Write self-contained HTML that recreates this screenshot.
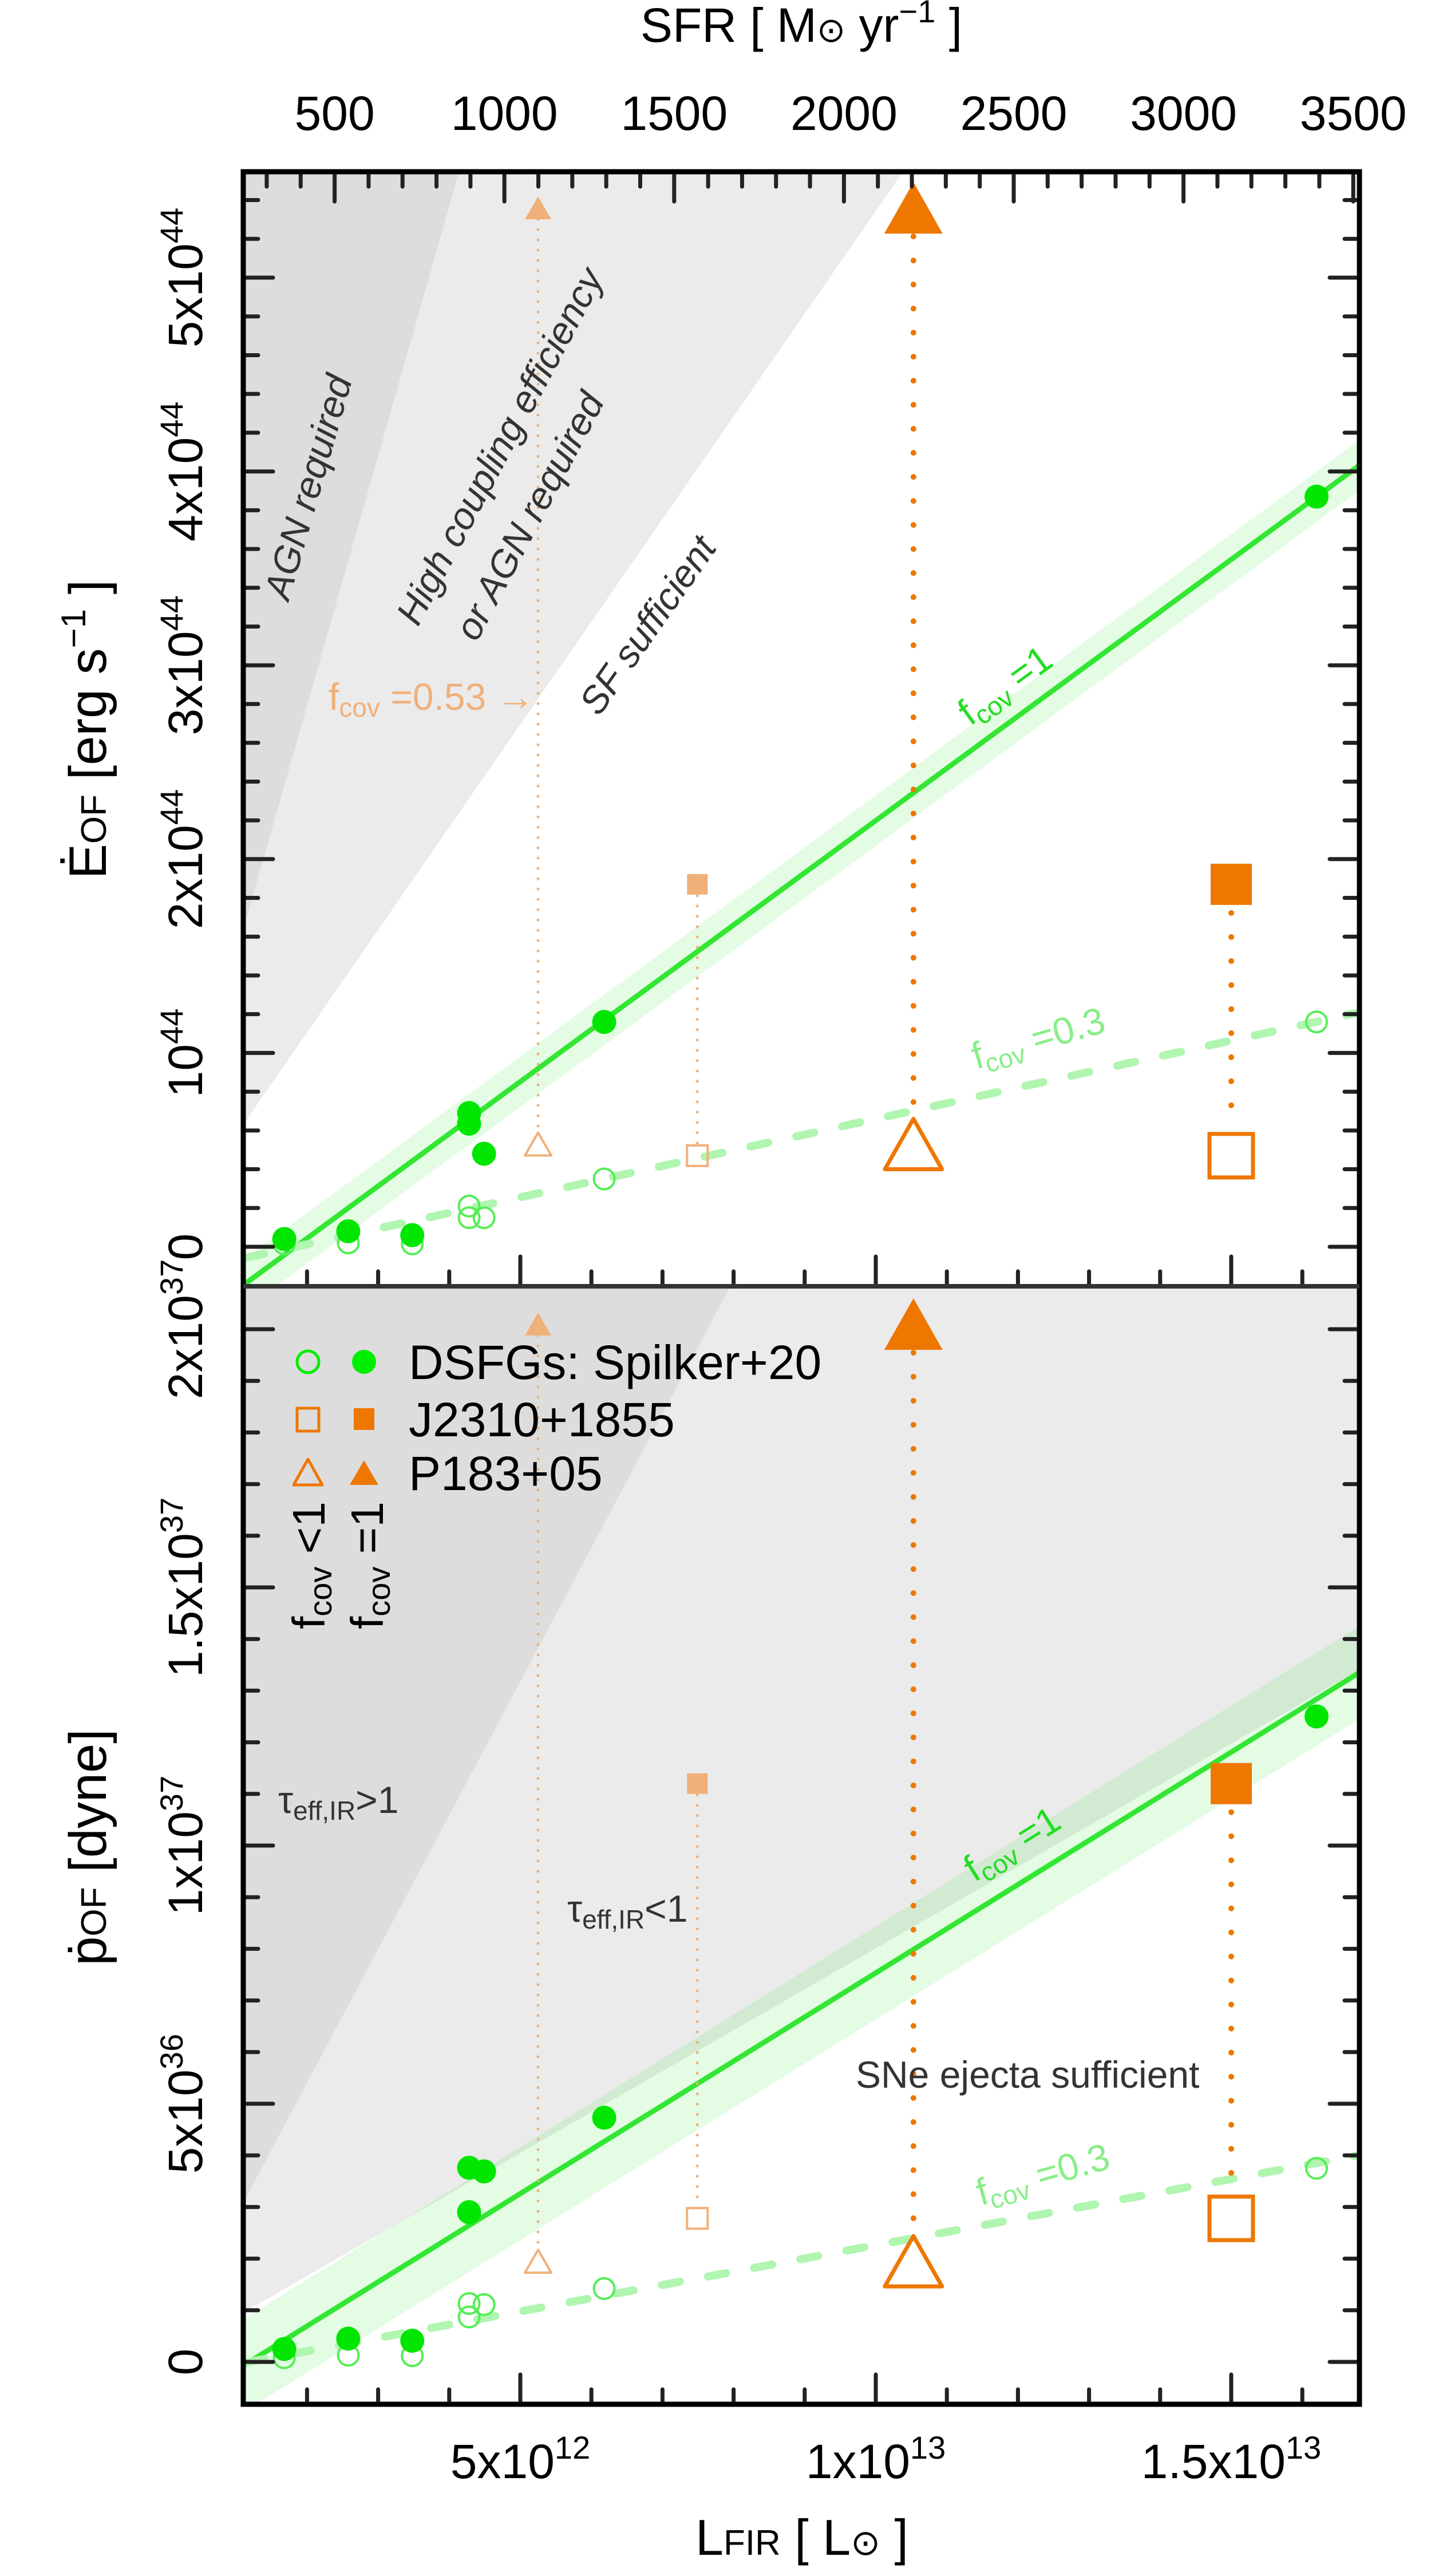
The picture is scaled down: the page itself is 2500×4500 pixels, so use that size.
<!DOCTYPE html>
<html><head><meta charset="utf-8"><style>
html,body{margin:0;padding:0;background:#fff;}
svg{display:block;font-family:"Liberation Sans Narrow","Liberation Sans",sans-serif;}
</style></head><body>
<svg id="chart" xmlns="http://www.w3.org/2000/svg" width="2500" height="4500" viewBox="0 0 2500 4500">
<defs>
<clipPath id="clipTop"><rect x="425" y="300" width="1950" height="1947"/></clipPath>
<clipPath id="clipBot"><rect x="425" y="2247" width="1950" height="1953"/></clipPath>
</defs>
<g id="bgTop" clip-path="url(#clipTop)"></g>
<g id="bgBot" clip-path="url(#clipBot)"></g>
<g id="marksTop" clip-path="url(#clipTop)"></g>
<g id="marksBot" clip-path="url(#clipBot)"></g>
<g id="ticks"></g>
<g id="labels"></g>
<rect x="425" y="300" width="1950" height="3900" fill="none" stroke="#000" stroke-width="9"/>
<line x1="425" y1="2247" x2="2375" y2="2247" stroke="#333" stroke-width="8"/>

<g font-size="66" fill="#333">
<text transform="translate(560,857) rotate(-74)" text-anchor="middle" font-style="italic">AGN required</text>
<text transform="translate(893,790) rotate(-62)" text-anchor="middle" font-style="italic">High coupling efficiency</text>
<text transform="translate(945,912) rotate(-62)" text-anchor="middle" font-style="italic">or AGN required</text>
<text transform="translate(1150,1105) rotate(-55)" text-anchor="middle" font-style="italic">SF sufficient</text>
<text x="574" y="1240" fill="#f0b07a">f<tspan font-size="46" dy="12">cov</tspan><tspan dy="-12"> =0.53 →</tspan></text>
<text x="486" y="3167">τ<tspan font-size="46" dy="12">eff,IR</tspan><tspan dy="-12">&gt;1</tspan></text>
<text x="991" y="3357">τ<tspan font-size="46" dy="12">eff,IR</tspan><tspan dy="-12">&lt;1</tspan></text>
<text x="1495" y="3647">SNe ejecta sufficient</text>
<text transform="translate(1769,1215) rotate(-36)" text-anchor="middle" fill="#22dd22">f<tspan font-size="46" dy="12">cov</tspan><tspan dy="-12"> =1</tspan></text>
<text transform="translate(1780,3240) rotate(-32)" text-anchor="middle" fill="#22dd22">f<tspan font-size="46" dy="12">cov</tspan><tspan dy="-12"> =1</tspan></text>
<text transform="translate(1820,1835) rotate(-16)" text-anchor="middle" fill="#88ee88">f<tspan font-size="46" dy="12">cov</tspan><tspan dy="-12"> =0.3</tspan></text>
<text transform="translate(1828,3820) rotate(-16)" text-anchor="middle" fill="#88ee88">f<tspan font-size="46" dy="12">cov</tspan><tspan dy="-12"> =0.3</tspan></text>
</g>

<g>
<circle cx="538" cy="2379" r="19" fill="none" stroke="#00ee00" stroke-width="5"/>
<circle cx="636" cy="2379" r="21" fill="#00ee00"/>
<text x="714" y="2409" font-size="84">DSFGs: Spilker+20</text>
<rect x="519" y="2460" width="38" height="40" fill="none" stroke="#ee7700" stroke-width="5"/>
<rect x="618" y="2460" width="36" height="38" fill="#ee7700"/>
<text x="714" y="2509" font-size="84">J2310+1855</text>
<polygon points="538,2549 563,2594 513,2594" fill="none" stroke="#ee7700" stroke-width="5" stroke-linejoin="round"/>
<polygon points="636,2551 661,2594 611,2594" fill="#ee7700"/>
<text x="714" y="2603" font-size="84">P183+05</text>
<text transform="translate(567,2846) rotate(-90)" font-size="80">f<tspan font-size="56" dy="12">cov</tspan><tspan dy="-12"> &lt;1</tspan></text>
<text transform="translate(669,2846) rotate(-90)" font-size="80">f<tspan font-size="56" dy="12">cov</tspan><tspan dy="-12"> =1</tspan></text>
</g>

<text x="1400" y="73" font-size="84" text-anchor="middle">SFR [ M<tspan font-size="60">⊙</tspan> yr<tspan font-size="56" dy="-34">−1</tspan><tspan dy="34"> ]</tspan></text>
<text transform="translate(185,1274) rotate(-90)" font-size="92" text-anchor="middle">Ė<tspan font-size="62">OF</tspan> [erg s<tspan font-size="60" dy="-36">−1</tspan><tspan dy="36"> ]</tspan></text>
<text transform="translate(185,3227) rotate(-90)" font-size="92" text-anchor="middle">ṗ<tspan font-size="62">OF</tspan> [dyne]</text>
<text x="1401" y="4463" font-size="88" text-anchor="middle">L<tspan font-size="62">FIR</tspan> [ L<tspan font-size="62">⊙</tspan> ]</text>

<script>
// ---- data (L in 1e12 Lsun, E in 1e44 erg/s, p in 1e36 dyne) ----
const dsfgL = [1.68, 2.58, 3.48, 4.28, 4.28, 4.49, 6.18, 16.2];
const dsfgE1 = [0.04, 0.08, 0.06, 0.69, 0.635, 0.48, 1.16, 3.87];
const dsfgE03 = [0.015, 0.02, 0.015, 0.21, 0.15, 0.15, 0.35, 1.16];
const dsfgP1 = [0.25, 0.45, 0.41, 3.76, 2.9, 3.69, 4.73, 12.5];
const dsfgP03 = [0.08, 0.13, 0.12, 1.13, 0.87, 1.11, 1.42, 3.75];
const qsoNames = ["J2310+1855", "P183+05"];
const qsoL = [15.0, 10.53];
const qsoLfaded = [7.49, 5.25];
const qsoE1 = [1.87, 5.36];
const qsoElow = [0.47, 0.53];
const qsoP1 = [11.2, 20.1];
const qsoPlow = [2.78, 1.95];
const fitTop = [0.2694, -0.495];
const fitBot = [0.855, -1.016];
const bandTop = 0.13;
const bandBot = 0.9;
const fcovLow = 0.3;
const regionTopDark = [[1.095, 1.624], [4.14, 5.55]];
const regionTopLight = [[1.095, 0.626], [10.39, 5.55]];
const regionBotDark = [[1.095, 3.06], [7.95, 20.82]];
const regionBotLight = [[1.095, 0.95], [16.8, 13.4]];
const xTicksL = [5, 10, 15];
const xTickLabels = ["5x10^12", "1x10^13", "1.5x10^13"];
const sfrTicks = [500, 1000, 1500, 2000, 2500, 3000, 3500];
const eTicks = [0, 1, 2, 3, 4, 5];
const eTickLabels = ["0", "10^44", "2x10^44", "3x10^44", "4x10^44", "5x10^44"];
const pTicks = [0, 5, 10, 15, 20];
const pTickLabels = ["0", "5x10^36", "1x10^37", "1.5x10^37", "2x10^37"];

const xL = L => 288 + L * 124.2;
const xS = s => 288 + s * 0.5932;
const yE = E => 2178 - E * 338.6;
const yP = p => 4126 - p * 90.2;
const NS = "http://www.w3.org/2000/svg";
function mk(tag, attrs, parent) {
  const e = document.createElementNS(NS, tag);
  for (const k in attrs) e.setAttribute(k, attrs[k]);
  parent.appendChild(e);
  return e;
}
const bgTop = document.getElementById('bgTop');
const bgBot = document.getElementById('bgBot');
const mTop = document.getElementById('marksTop');
const mBot = document.getElementById('marksBot');
const ticks = document.getElementById('ticks');
const labels = document.getElementById('labels');

function region(parent, pts, ysc, fill, name) {
  const [a, b] = pts;
  const m = (b[1] - a[1]) / (b[0] - a[0]);
  const f = L => a[1] + m * (L - a[0]);
  const L0 = 0, L1 = 20;
  const d = `M${xL(L0)},${ysc(f(L0))} L${xL(L1)},${ysc(f(L1))} L${xL(L1)},0 L${xL(L0)},0 Z`;
  const p = mk('path', {d, fill}, parent);
  
  
}
region(bgTop, regionTopLight, yE, '#ebebeb', 'sf-limit-region');
region(bgTop, regionTopDark, yE, '#dddddd', 'agn-required-region');
region(bgBot, regionBotLight, yP, '#ebebeb', 'tau-lt1-region');
region(bgBot, regionBotDark, yP, '#dddddd', 'tau-gt1-region');

function fitPanel(parent, fit, band, ysc, tag) {
  const f = L => fit[0] * L + fit[1];
  const La = 0.5, Lb = 18;
  const bd = `M${xL(La)},${ysc(f(La) + band)} L${xL(Lb)},${ysc(f(Lb) + band)} L${xL(Lb)},${ysc(f(Lb) - band)} L${xL(La)},${ysc(f(La) - band)} Z`;
  const b = mk('path', {d: bd, fill: 'rgba(40,230,40,0.13)'}, parent);
  
  
  const l = mk('line', {x1: xL(La), y1: ysc(f(La)), x2: xL(Lb), y2: ysc(f(Lb)), stroke: '#33e633', 'stroke-width': 9}, parent);
  
  
  const d = mk('line', {x1: xL(La), y1: ysc(fcovLow * f(La)), x2: xL(Lb), y2: ysc(fcovLow * f(Lb)), stroke: '#b0f5b0', 'stroke-width': 14, 'stroke-dasharray': '32 50', 'stroke-linecap': 'round'}, parent);
  
  
}
fitPanel(mTop, fitTop, bandTop, yE, 'top');
fitPanel(mBot, fitBot, bandBot, yP, 'bottom');

function dotted(parent, x, y1, y2, faded, name) {
  const l = mk('line', {x1: x, y1, x2: x, y2, stroke: faded ? '#f0b07a' : '#ee7700', 'stroke-width': faded ? 5 : 10, 'stroke-linecap': 'round', 'stroke-dasharray': faded ? '0 18' : '0 42'}, parent);
  
  
}
function square(parent, cx, cy, s, filled, color, name) {
  const r = mk('rect', {x: cx - s / 2, y: cy - s / 2, width: s, height: s, fill: filled ? color : 'none', stroke: filled ? 'none' : color, 'stroke-width': filled ? 0 : (s > 50 ? 7 : 4)}, parent);
  
  
}
function tri(parent, cx, cy, w, h, filled, color, name) {
  const pts = `${cx},${cy - h / 2} ${cx + w / 2},${cy + h / 2} ${cx - w / 2},${cy + h / 2}`;
  const t = mk('polygon', {points: pts, fill: filled ? color : 'none', stroke: filled ? 'none' : color, 'stroke-width': filled ? 0 : (w > 60 ? 7 : 4), 'stroke-linejoin': 'round'}, parent);
  
  
}
function qsoPanel(parent, hi, lo, ysc, tag) {
  for (let i = 0; i < qsoL.length; i++) {
    const isSq = i === 0;
    const xf = xL(qsoLfaded[i]);
    dotted(parent, xf, ysc(hi[i]) + 20, ysc(lo[i]) - 20, true, tag + '-faded-link-' + i);
    const xq = xL(qsoL[i]);
    dotted(parent, xq, ysc(hi[i]) + 50, ysc(lo[i]) - 48, false, tag + '-link-' + i);
    if (isSq) {
      square(parent, xf, ysc(hi[i]), 36, true, '#f0b07a', tag + '-j2310-faded-filled');
      square(parent, xf, ysc(lo[i]), 36, false, '#f0b07a', tag + '-j2310-faded-open');
      square(parent, xq, ysc(hi[i]), 72, true, '#ee7700', tag + '-j2310-filled');
      square(parent, xq, ysc(lo[i]), 76, false, '#ee7700', tag + '-j2310-open');
    } else {
      tri(parent, xf, ysc(hi[i]), 46, 40, true, '#f0b07a', tag + '-p183-faded-filled');
      tri(parent, xf, ysc(lo[i]), 46, 40, false, '#f0b07a', tag + '-p183-faded-open');
      tri(parent, xq, ysc(hi[i]), 102, 90, true, '#ee7700', tag + '-p183-filled');
      tri(parent, xq, ysc(lo[i]), 100, 88, false, '#ee7700', tag + '-p183-open');
    }
  }
}
qsoPanel(mTop, qsoE1, qsoElow, yE, 'top');
qsoPanel(mBot, qsoP1, qsoPlow, yP, 'bottom');

function dsfg(parent, lo, hi, ysc, tag) {
  for (let i = 0; i < dsfgL.length; i++) {
    const c = mk('circle', {cx: xL(dsfgL[i]), cy: ysc(lo[i]), r: 18, fill: 'none', stroke: '#55ee55', 'stroke-width': 4}, parent);
    
    
  }
  for (let i = 0; i < dsfgL.length; i++) {
    const c = mk('circle', {cx: xL(dsfgL[i]), cy: ysc(hi[i]), r: 21, fill: '#00e600'}, parent);
    
    
  }
}
dsfg(mTop, dsfgE03, dsfgE1, yE, 'top');
dsfg(mBot, dsfgP03, dsfgP1, yP, 'bottom');

function tk(x1, y1, x2, y2, name) {
  const l = mk('line', {x1, y1, x2, y2, stroke: '#222', 'stroke-width': 7, 'stroke-linecap': 'round'}, ticks);
  
  
}
for (let e = -0.2; e <= 5.45; e += 0.2) {
  const y = yE(e); const maj = Math.abs(e - Math.round(e)) < 0.01; const len = maj ? 52 : 26;
  if (y < 305 || y > 2242) continue;
  tk(425, y, 425 + len, y, 'top-left-tick'); tk(2375, y, 2375 - len, y, 'top-right-tick');
}
for (let p = 0; p <= 21; p += 1) {
  const y = yP(p); const len = p % 5 === 0 ? 52 : 26;
  if (y < 2252 || y > 4195) continue;
  tk(425, y, 425 + len, y, 'bottom-left-tick'); tk(2375, y, 2375 - len, y, 'bottom-right-tick');
}
for (let L = 2; L <= 16; L += 1) {
  const x = xL(L); const len = L % 5 === 0 ? 52 : 26;
  tk(x, 4200, x, 4200 - len, 'bottom-x-tick');
  tk(x, 2247, x, 2247 - len, 'mid-x-tick');
}
for (let s = 300; s <= 3500; s += 100) {
  const x = xS(s); if (x > 2370) continue; const len = s % 500 === 0 ? 52 : 26;
  tk(x, 300, x, 300 + len, 'top-sfr-tick');
}

function powLabel(parent, str, attrs, sup) {
  const t = mk('text', attrs, parent);
  const parts = str.split('^');
  t.appendChild(document.createTextNode(parts[0]));
  if (parts[1]) {
    const ts = mk('tspan', {'font-size': sup, dy: -34}, t);
    ts.textContent = parts[1];
  }
  return t;
}
sfrTicks.forEach(s => {
  const t = mk('text', {x: xS(s), y: 227, 'font-size': 84, 'text-anchor': 'middle'}, labels);
  t.textContent = s;
  
  
});
xTicksL.forEach((L, i) => {
  const t = powLabel(labels, xTickLabels[i], {x: xL(L), y: 4329, 'font-size': 84, 'text-anchor': 'middle'}, 56);
  
  
});
eTicks.forEach((e, i) => {
  const t = powLabel(labels, eTickLabels[i], {transform: `translate(353,${yE(e)}) rotate(-90)`, 'font-size': 84, 'text-anchor': 'middle'}, 56);
  
  
});
pTicks.forEach((p, i) => {
  const t = powLabel(labels, pTickLabels[i], {transform: `translate(353,${yP(p)}) rotate(-90)`, 'font-size': 84, 'text-anchor': 'middle'}, 56);
  
  
});
</script>
</svg>
</body></html>
